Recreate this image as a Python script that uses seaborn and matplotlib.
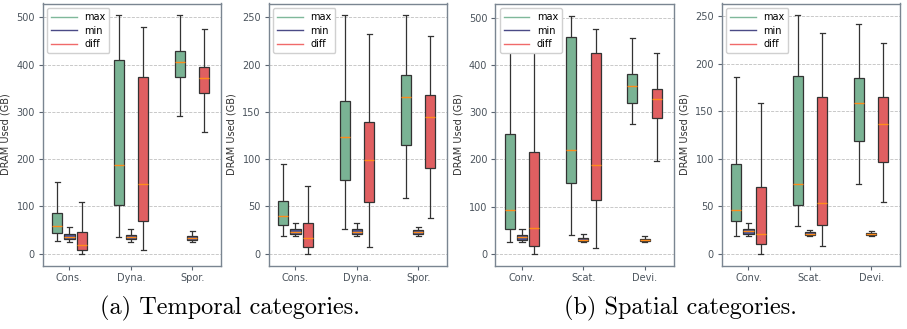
import pandas as pd
import matplotlib.pyplot as plt
from matplotlib.lines import Line2D
import seaborn as sns

temporal = ["Cons.", "Dyna.", "Spor."]
spatial = ["Conv.", "Scat.", "Devi."]
kinds = ["max", "min", "diff"]

# five-number summary per box: [low whisker, q1, median, q3, high whisker]
temp_512_max = [[26, 44, 58, 87, 151], [36, 103, 187, 410, 504], [292, 374, 406, 428, 504]]
temp_512_min = [[25, 32, 36, 41, 56], [25, 32, 35, 39, 53], [25, 30, 33, 37, 49]]
temp_512_diff = [[0, 7, 18, 46, 109], [9, 70, 148, 374, 479], [257, 339, 372, 394, 476]]

temp_256_max = [[19, 30, 40, 56, 95], [26, 78, 123, 162, 252], [59, 115, 166, 189, 252]]
temp_256_min = [[19, 21, 23.5, 26, 33], [19, 21, 23, 26, 33], [19, 21, 23, 25, 28]]
temp_256_diff = [[0, 7, 17, 33, 72], [7, 55, 99, 139, 232], [38, 91, 145, 168, 230]]

spat_512_max = [[26, 53, 92, 254, 505], [39, 149, 220, 460, 504], [274, 320, 356, 381, 458]]
spat_512_min = [[25, 30, 35, 39, 53], [25, 28, 30, 33, 41], [25, 27, 30, 32, 37]]
spat_512_diff = [[0, 16, 54, 216, 482], [12, 115, 188, 425, 477], [196, 287, 327, 350, 426]]

spat_256_max = [[19, 34, 46, 95, 186], [29, 51, 73, 187, 251], [74, 119, 159, 185, 242]]
spat_256_min = [[19, 21, 23.5, 26, 32], [19, 20, 21, 22.5, 25], [19, 20, 21, 22, 23.5]]
spat_256_diff = [[0, 10, 21, 70, 159], [8, 30, 53, 165, 233], [55, 97, 137, 165, 222]]

palette = {"max": "#7ab394", "min": "#4c5596", "diff": "#e05f61"}
legend_colors = {"max": "#7fb89a", "min": "#4a4a86", "diff": "#f06a6a"}


def make_df(cats, mx, mn, df):
    rows = []
    for i, cat in enumerate(cats):
        for kind, series in zip(kinds, [mx, mn, df]):
            for v in series[i]:
                rows.append((cat, kind, v))
    return pd.DataFrame(rows, columns=["cat", "kind", "value"])


panels = [
    (temporal, temp_512_max, temp_512_min, temp_512_diff, [0, 100, 200, 300, 400, 500]),
    (temporal, temp_256_max, temp_256_min, temp_256_diff, [0, 50, 100, 150, 200, 250]),
    (spatial, spat_512_max, spat_512_min, spat_512_diff, [0, 100, 200, 300, 400, 500]),
    (spatial, spat_256_max, spat_256_min, spat_256_diff, [0, 50, 100, 150, 200, 250]),
]

fig = plt.figure(figsize=(9.07, 3.29), dpi=100)
lefts = [42.5, 268.5, 495, 721.5]
W, H = 907, 329

for left, (cats, mx, mn, df, yt) in zip(lefts, panels):
    ax = fig.add_axes([left / W, 1 - 265.7 / H, 178.5 / W, (265.7 - 3.5) / H])
    data = make_df(cats, mx, mn, df)
    sns.boxplot(data=data, x="cat", y="value", hue="kind", order=cats,
                hue_order=kinds, palette=palette, saturation=1,
                width=0.6, gap=0.175, whis=(0, 100), showfliers=False,
                linewidth=0.9, linecolor="#333333",
                medianprops=dict(color="#ff8c1a", linewidth=1),
                legend=False, ax=ax)
    ax.set_xlim(-0.44, 2.47)
    ax.set_yticks(yt)
    ax.set_xlabel("")
    ax.set_ylabel("DRAM Used (GB)", fontsize=7, color="#333333", labelpad=4)
    ax.yaxis.grid(True, linestyle="--", color="#c0c0c0", linewidth=0.6)
    ax.set_axisbelow(True)
    ax.tick_params(labelsize=7, colors="#5a6470", labelcolor="#4a535c",
                   length=3, width=0.8, pad=2.5)
    for sp in ax.spines.values():
        sp.set_color("#7a8591")
        sp.set_linewidth(1)
    handles = [Line2D([], [], color=legend_colors[k], lw=1) for k in kinds]
    ax.legend(handles, kinds, loc="upper left", fontsize=7, framealpha=1,
              edgecolor="#d0d0d0", handlelength=2.6, borderpad=0.4,
              labelspacing=0.35)

fig.text(230 / W, 1 - 308 / H, "(a) Temporal categories.", ha="center",
         va="center", fontsize=17.5, family=["cmr10", "DejaVu Serif"])
fig.text(680 / W, 1 - 308 / H, "(b) Spatial categories.", ha="center",
         va="center", fontsize=17.5, family=["cmr10", "DejaVu Serif"])

fig.savefig("out.png", dpi=100)
